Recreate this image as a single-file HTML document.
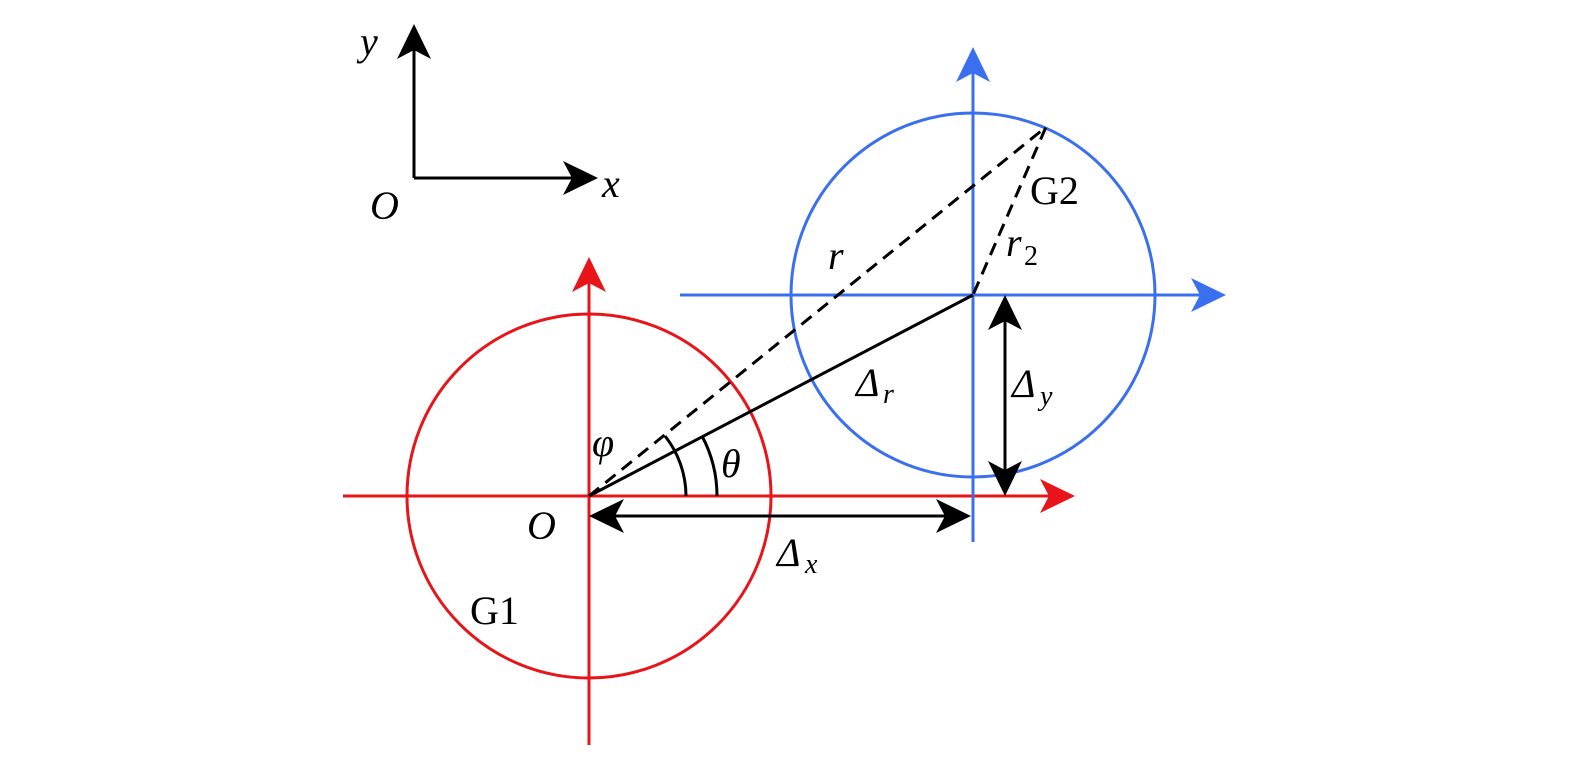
<!DOCTYPE html>
<html><head><meta charset="utf-8"><style>
body{margin:0;background:#fff}
svg{display:block}
text{font-family:"Liberation Serif",serif;font-size:40px;fill:#000}
.i{font-style:italic}
.s{font-size:28px}
</style></head><body>
<svg id="s" width="1575" height="758" viewBox="0 0 1575 758" xmlns="http://www.w3.org/2000/svg">
<g fill="none" stroke-width="3">
<line x1="414" y1="178" x2="414" y2="50" stroke="#000"/>
<line x1="414" y1="178" x2="575" y2="178" stroke="#000"/>
<circle cx="589" cy="496" r="182" stroke="#e8141a"/>
<line x1="589" y1="745" x2="589" y2="280" stroke="#e8141a"/>
<line x1="343" y1="496" x2="1050" y2="496" stroke="#e8141a"/>
<circle cx="973" cy="295" r="182" stroke="#3a6ff0"/>
<line x1="973" y1="542" x2="973" y2="70" stroke="#3a6ff0"/>
<line x1="680" y1="295" x2="1200" y2="295" stroke="#3a6ff0"/>
<line x1="589" y1="496" x2="973" y2="295" stroke="#000"/>
<path d="M589 496 L1046 127 L973 295" stroke="#000" stroke-dasharray="13 8"/>
<path d="M717 496 A128 128 0 0 0 702 436" stroke="#000"/>
<path d="M686 496 A97 97 0 0 0 665 436" stroke="#000"/>
<line x1="610" y1="516" x2="950" y2="516" stroke="#000"/>
<line x1="1005" y1="318" x2="1005" y2="473" stroke="#000"/>
</g>
<g id="arrows"></g>
<text class="i" x="360" y="55">y</text>
<text class="i" x="602" y="197">x</text>
<text class="i" x="370" y="219">O</text>
<text class="i" x="527" y="539">O</text>
<text class="i" x="828" y="269">r</text>
<text class="i" x="1006" y="256">r</text><text class="s" x="1024" y="265">2</text>
<text x="1030" y="204">G2</text>
<text x="470" y="624">G1</text>
<text class="i" x="856" y="396">Δ</text><text class="i s" x="883" y="403">r</text>
<text class="i" x="1012" y="397">Δ</text><text class="i s" x="1040" y="405">y</text>
<text class="i" x="777" y="566">Δ</text><text class="i s" x="805" y="573">x</text>
<text class="i" x="721" y="477">θ</text>
<text class="i" x="592" y="456">φ</text>
</svg>
<script>
const g=document.getElementById('arrows');
function A(x,y,dx,dy,c){const L=35,W=17,I=9;const px=-dy,py=dx;
const bx=x-dx*L,by=y-dy*L,ix=x-dx*(L-I),iy=y-dy*(L-I);
const p=document.createElementNS('http://www.w3.org/2000/svg','path');
p.setAttribute('d',`M${x} ${y} L${bx+px*W} ${by+py*W} L${ix} ${iy} L${bx-px*W} ${by-py*W}Z`);
p.setAttribute('fill',c);g.appendChild(p);}
A(414,24,0,-1,'#000');A(598,178,1,0,'#000');
A(589,257,0,-1,'#e8141a');A(1075,496,1,0,'#e8141a');
A(973,47,0,-1,'#3a6ff0');A(1226,295,1,0,'#3a6ff0');
A(589,516,-1,0,'#000');A(971,516,1,0,'#000');
A(1005,295,0,-1,'#000');A(1005,496,0,1,'#000');
</script>
</body></html>
